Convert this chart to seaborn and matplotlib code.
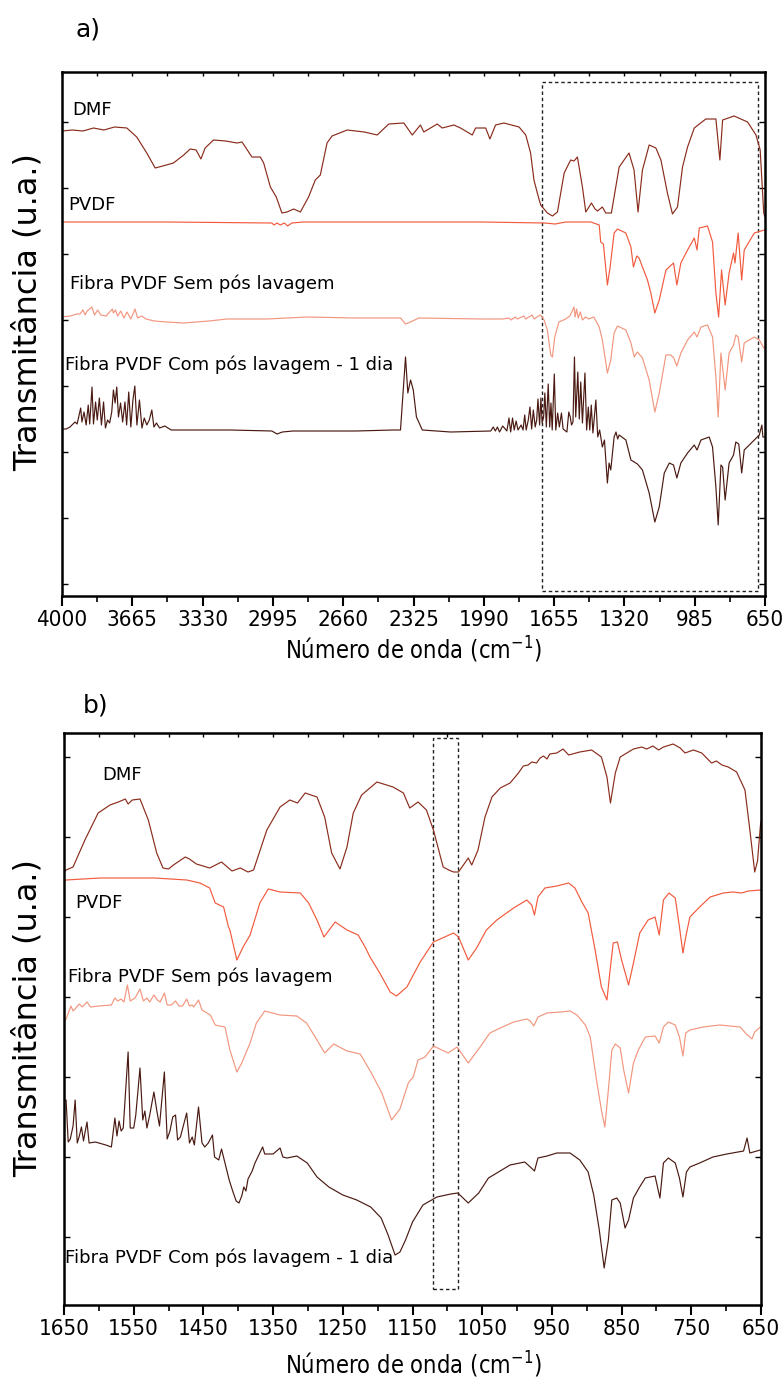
import matplotlib
matplotlib.use("Agg")
import matplotlib.pyplot as plt
import seaborn as sns
from matplotlib.patches import Rectangle
from matplotlib import font_manager

# ---------------- data: panel a (full range) ----------------
a_dmf_wn = [4000, 3950, 3900, 3850, 3800, 3750, 3691, 3644, 3596, 3556, 3520, 3469, 3420, 3389, 3361, 3338, 3318,
            3278, 3220, 3166, 3142, 3095, 3055, 3039, 3007, 2979, 2952, 2928, 2896, 2864, 2825, 2793, 2769, 2737,
            2713, 2641, 2560, 2498, 2443, 2371, 2331, 2292, 2276, 2212, 2188, 2133, 2101, 2045, 2029, 1981, 1961,
            1934, 1894, 1822, 1790, 1767, 1751, 1735, 1719, 1687, 1663, 1639, 1607, 1576, 1560, 1544, 1520, 1504,
            1477, 1460, 1448, 1425, 1409, 1382, 1345, 1298, 1274, 1255, 1234, 1202, 1170, 1146, 1115, 1091, 1067,
            1043, 1019, 987, 932, 884, 865, 852, 797, 733, 693, 673, 656, 650]
a_dmf_t = [466, 467, 466, 469, 467, 470, 469, 460, 444, 429, 431, 434, 442, 448, 447, 438, 449,
           457, 456, 454, 455, 440, 440, 434, 410, 400, 384, 385, 388, 385, 400, 417, 422, 454,
           461, 467, 465, 462, 473, 474, 462, 472, 465, 473, 469, 472, 469, 462, 469, 469, 458,
           472, 474, 470, 462, 444, 417, 404, 392, 384, 381, 385, 424, 437, 436, 440, 410, 385,
           394, 388, 386, 390, 384, 384, 430, 444, 427, 385, 427, 452, 449, 437, 404, 383, 390,
           430, 450, 469, 478, 478, 437, 477, 481, 475, 462, 447, 384, 380]

a_pvdf_wn = [4000, 3500, 3000, 2990, 2975, 2960, 2940, 2925, 2905, 2850, 2500, 2000, 1700, 1650, 1600, 1480, 1440,
             1433, 1420, 1401, 1388, 1369, 1353, 1313, 1289, 1277, 1261, 1250, 1234, 1210, 1194, 1175, 1154, 1122,
             1086, 1070, 1051, 1019, 987, 974, 963, 924, 900, 884, 871, 857, 840, 821, 800, 793, 778, 761, 749,
             701, 653, 650]
a_pvdf_t = [375, 375, 374, 372, 374, 372, 374, 371, 374, 375, 375, 375, 374, 373, 375, 375, 372,
            355, 353, 312, 330, 364, 368, 364, 350, 330, 341, 339, 330, 317, 304, 284, 297, 327,
            334, 312, 334, 347, 359, 347, 369, 371, 355, 304, 280, 327, 292, 324, 344, 334, 364, 317, 347,
            364, 367, 367]

a_sem_wn = [4000, 3960, 3930, 3914, 3900, 3890, 3880, 3858, 3845, 3830, 3815, 3790, 3760, 3755, 3745, 3735, 3720,
            3705, 3690, 3672, 3652, 3640, 3620, 3600, 3560, 3500, 3421, 3300, 3214, 3023, 2832, 2600, 2387, 2363,
            2339, 2300, 2000, 1900, 1870, 1860, 1840, 1830, 1800, 1790, 1760, 1750, 1730, 1719, 1703, 1687, 1671,
            1663, 1652, 1632, 1600, 1580, 1560, 1555, 1548, 1540, 1530, 1520, 1505, 1490, 1466, 1440, 1425, 1401,
            1385, 1369, 1353, 1313, 1289, 1273, 1258, 1234, 1202, 1175, 1154, 1122, 1099, 1085, 1070, 1051, 1019,
            987, 974, 955, 924, 900, 884, 873, 860, 840, 821, 800, 789, 778, 761, 749, 701, 677, 656, 650]
a_sem_t = [280, 281, 283, 283, 287, 282, 286, 290, 282, 287, 282, 281, 288, 284, 287, 281, 286,
           279, 285, 278, 288, 279, 281, 278, 276, 275, 274, 276, 278, 278, 280, 279, 279, 273,
           275, 279, 278, 278, 279, 277, 280, 278, 281, 278, 282, 278, 281, 282, 277, 267, 242,
           240, 260, 275, 278, 281, 290, 280, 288, 279, 285, 277, 280, 278, 280, 270, 257, 224,
           237, 264, 271, 267, 254, 240, 245, 239, 217, 185, 204, 242, 242, 239, 231, 244, 257,
           265, 260, 270, 272, 260, 220, 180, 244, 207, 244, 252, 262, 260, 235, 254, 260, 257, 249, 250]

a_com_wn = [4000, 3980, 3962, 3938, 3928, 3911, 3905, 3895, 3885, 3875, 3868, 3857, 3850, 3840, 3832, 3822, 3812,
            3802, 3793, 3783, 3773, 3763, 3755, 3747, 3739, 3731, 3721, 3711, 3700, 3692, 3682, 3672, 3662, 3653,
            3643, 3631, 3619, 3608, 3596, 3584, 3572, 3562, 3550, 3535, 3510, 3480, 3400, 3200, 3000, 2975, 2950,
            2900, 2600, 2420, 2387, 2363, 2352, 2339, 2326, 2311, 2283, 2148, 1957, 1945, 1935, 1925, 1915, 1900,
            1880, 1870, 1862, 1853, 1845, 1836, 1827, 1812, 1803, 1795, 1788, 1778, 1770, 1762, 1754, 1745, 1738,
            1732, 1724, 1718, 1712, 1705, 1699, 1692, 1683, 1676, 1670, 1664, 1654, 1647, 1638, 1630, 1620, 1612,
            1594, 1585, 1578, 1572, 1565, 1558, 1552, 1542, 1535, 1528, 1520, 1508, 1500, 1492, 1485, 1478, 1470,
            1456, 1447, 1438, 1425, 1415, 1401, 1393, 1385, 1369, 1360, 1352, 1345, 1313, 1289, 1273, 1258, 1234,
            1202, 1175, 1154, 1130, 1106, 1086, 1070, 1051, 1019, 987, 974, 955, 916, 900, 884, 873, 860, 852, 840,
            821, 800, 789, 775, 761, 749, 701, 677, 665, 660, 650]
a_com_t = [168, 168, 170, 175, 173, 189, 175, 185, 172, 192, 173, 210, 173, 195, 177, 199, 172,
           195, 169, 177, 174, 185, 207, 194, 210, 180, 194, 175, 195, 172, 205, 170, 197, 211,
           172, 197, 169, 179, 172, 177, 187, 170, 174, 169, 171, 167, 167, 167, 166, 163, 165,
           166, 166, 167, 167, 240, 204, 217, 207, 180, 167, 165, 166, 170, 166, 170, 165, 171,
           166, 179, 165, 179, 167, 176, 167, 172, 167, 182, 167, 177, 190, 168, 187, 170, 177,
           198, 172, 199, 174, 180, 204, 170, 213, 170, 194, 167, 223, 167, 184, 170, 184, 168,
           165, 185, 180, 172, 175, 240, 180, 225, 178, 215, 174, 224, 167, 190, 167, 192, 164,
           197, 160, 167, 150, 157, 114, 134, 127, 160, 165, 158, 162, 157, 137, 135, 133, 127,
           104, 75, 90, 124, 134, 132, 119, 134, 144, 152, 147, 157, 160, 150, 110, 72, 132, 130, 97,
           134, 142, 155, 153, 124, 147, 157, 162, 172, 160, 160]

# ---------------- data: panel b (1650-650 cm-1) ----------------
b_dmf_wn = [1650, 1647, 1637, 1620, 1601, 1584, 1572, 1562, 1558, 1552, 1541, 1529, 1517, 1508, 1500, 1493, 1476,
            1470, 1460, 1441, 1424, 1409, 1397, 1386, 1378, 1359, 1340, 1326, 1315, 1304, 1287, 1276, 1266, 1254,
            1244, 1235, 1223, 1201, 1178, 1163, 1154, 1142, 1130, 1120, 1106, 1098, 1091, 1084, 1075, 1070, 1065,
            1056, 1046, 1036, 1024, 1010, 998, 991, 984, 979, 972, 967, 962, 957, 953, 943, 934, 926, 910, 893,
            879, 871, 866, 859, 852, 833, 821, 814, 805, 797, 790, 776, 766, 759, 747, 735, 721, 714, 706, 697,
            685, 673, 666, 659, 655, 651, 650]
b_dmf_t = [419, 421, 424, 451, 478, 486, 489, 492, 487, 491, 492, 471, 438, 423, 422, 426, 434,
           432, 427, 423, 429, 420, 423, 419, 421, 461, 484, 491, 488, 498, 494, 474, 438, 422,
           444, 478, 496, 509, 504, 498, 483, 489, 481, 461, 424, 421, 419, 419, 428, 433, 426,
           441, 474, 494, 503, 508, 518, 525, 526, 529, 528, 533, 535, 532, 537, 538, 542, 536, 539, 541,
           534, 514, 488, 518, 534, 542, 544, 542, 545, 541, 544, 547, 543, 538, 541, 538, 528, 530, 526, 524,
           519, 501, 461, 419, 430, 464, 470]

b_pvdf_wn = [1650, 1647, 1598, 1520, 1474, 1455, 1441, 1433, 1421, 1414, 1412, 1402, 1393, 1383, 1369, 1357, 1340,
             1311, 1299, 1287, 1277, 1261, 1244, 1228, 1218, 1211, 1197, 1182, 1173, 1158, 1139, 1120, 1091, 1084,
             1070, 1058, 1044, 1029, 1005, 986, 979, 975, 970, 960, 943, 926, 917, 907, 898, 888, 879, 871, 867,
             862, 856, 850, 840, 833, 824, 812, 802, 796, 790, 782, 773, 767, 762, 758, 752, 738, 723, 704, 690,
             678, 668, 651, 650]
b_pvdf_t = [410, 411, 413, 413, 411, 408, 403, 388, 384, 364, 361, 331, 344, 356, 388, 402, 399,
            398, 388, 371, 354, 369, 361, 356, 344, 334, 318, 299, 295, 304, 329, 349, 358, 354,
            331, 343, 361, 371, 383, 391, 386, 376, 394, 403, 405, 408, 403, 389, 378, 341, 304, 291, 318,
            348, 349, 331, 306, 328, 358, 371, 374, 356, 391, 398, 393, 364, 338, 354, 374, 384, 394, 398, 399,
            398, 400, 401, 401]

b_sem_wn = [1650, 1647, 1640, 1637, 1633, 1628, 1624, 1617, 1612, 1600, 1582, 1577, 1573, 1568, 1564, 1559, 1555,
            1548, 1541, 1536, 1531, 1527, 1521, 1516, 1512, 1506, 1502, 1496, 1490, 1485, 1480, 1474, 1470, 1466,
            1464, 1457, 1452, 1445, 1440, 1433, 1427, 1419, 1412, 1402, 1395, 1383, 1374, 1362, 1340, 1316, 1302,
            1287, 1276, 1263, 1244, 1225, 1209, 1194, 1180, 1168, 1156, 1149, 1142, 1132, 1120, 1099, 1086, 1070,
            1053, 1039, 1024, 1005, 986, 981, 976, 970, 957, 938, 924, 914, 902, 895, 886, 879, 874, 869, 864, 859,
            852, 847, 840, 833, 826, 816, 802, 796, 790, 783, 773, 767, 762, 758, 752, 733, 709, 680, 671, 663,
            659, 651, 650]
b_sem_t = [270, 272, 285, 280, 283, 287, 284, 289, 284, 285, 286, 293, 290, 292, 289, 306, 290,
           293, 302, 290, 293, 289, 296, 291, 289, 298, 286, 286, 290, 285, 285, 292, 285, 286,
           284, 291, 281, 278, 276, 266, 265, 264, 241, 219, 228, 248, 268, 280, 276, 275, 268,
           251, 238, 247, 240, 237, 218, 198, 171, 182, 208, 214, 231, 234, 245, 238, 244, 228,
           244, 258, 263, 269, 272, 270, 265, 274, 278, 279, 280, 276, 266, 254, 211, 181, 164, 201, 241, 247,
           243, 221, 198, 228, 241, 254, 255, 248, 264, 269, 266, 254, 235, 258, 261, 264, 266, 264, 257, 252,
           259, 264, 264]

b_com_wn = [1650, 1647, 1644, 1641, 1637, 1634, 1631, 1628, 1625, 1622, 1620, 1617, 1614, 1605, 1590, 1582, 1577,
            1574, 1571, 1568, 1565, 1558, 1555, 1550, 1547, 1541, 1537, 1534, 1531, 1527, 1521, 1517, 1513, 1506,
            1502, 1498, 1494, 1490, 1487, 1483, 1474, 1470, 1466, 1463, 1457, 1452, 1448, 1443, 1437, 1434, 1428,
            1424, 1419, 1413, 1408, 1403, 1399, 1395, 1392, 1389, 1386, 1380, 1376, 1365, 1362, 1350, 1340, 1336,
            1330, 1316, 1301, 1287, 1270, 1250, 1230, 1210, 1195, 1185, 1175, 1168, 1160, 1150, 1135, 1115, 1095,
            1085, 1070, 1055, 1041, 1010, 989, 981, 975, 970, 957, 943, 924, 910, 898, 890, 882, 875, 869, 864,
            857, 852, 845, 840, 833, 825, 816, 802, 795, 790, 783, 773, 767, 762, 757, 752, 738, 719, 699, 675,
            670, 666, 651, 650]
b_com_t = [190, 191, 149, 152, 165, 191, 148, 155, 164, 150, 158, 169, 148, 149, 146, 144, 173,
           155, 170, 160, 163, 239, 163, 163, 176, 223, 171, 180, 163, 176, 199, 181, 165, 219,
           152, 160, 174, 176, 151, 154, 178, 148, 154, 146, 184, 148, 144, 148, 156, 134, 131,
           142, 128, 111, 100, 90, 88, 95, 104, 100, 112, 120, 128, 144, 137, 137, 143, 134,
           133, 135, 128, 114, 104, 96, 91, 84, 73, 56, 36, 39, 51, 69, 86, 94, 97,
           98, 88, 98, 113, 126, 129, 124, 120, 133, 135, 138, 138, 131, 119, 96, 61, 23, 51, 91,
           93, 88, 63, 71, 93, 103, 113, 115, 93, 128, 133, 128, 113, 94, 119, 124, 128, 134, 137, 140,
           153, 138, 141, 141]

series_names = ["DMF", "PVDF", "Fibra PVDF Sem pós lavagem", "Fibra PVDF Com pós lavagem - 1 dia"]
a_ticks = [4000, 3665, 3330, 2995, 2660, 2325, 1990, 1655, 1320, 985, 650]
b_ticks = [1650, 1550, 1450, 1350, 1250, 1150, 1050, 950, 850, 750, 650]

colors = ["#8a2c1c", "#f15a3d", "#f2967f", "#4a1a12"]

# ---------------- style ----------------
sns.set_theme(style="white")
plt.rcParams['font.family'] = ['DejaVu Sans']
plt.rcParams['mathtext.default'] = 'regular'
plt.rcParams['text.color'] = 'black'
plt.rcParams['xtick.color'] = 'black'
plt.rcParams['ytick.color'] = 'black'

has_cond = any(f.name == 'DejaVu Sans' and str(f.stretch) in ('condensed', '87.5')
               for f in font_manager.fontManager.ttflist)
names = {f.name for f in font_manager.fontManager.ttflist}
if 'Liberation Sans Narrow' in names:
    num_font = dict(fontfamily='Liberation Sans Narrow', fontsize=17)
    lab_font = dict(fontfamily='Liberation Sans Narrow', fontsize=20)
elif has_cond:
    num_font = dict(fontfamily='DejaVu Sans', fontstretch='condensed', fontsize=16)
    lab_font = dict(fontfamily='DejaVu Sans', fontstretch='condensed', fontsize=17)
else:
    num_font = dict(fontfamily='Liberation Sans', fontsize=16)
    lab_font = dict(fontfamily='Liberation Sans', fontsize=19)

W, H = 784, 1385
fig = plt.figure(figsize=(W / 100, H / 100), dpi=100)


def px_axes(l, t, r, b):
    return fig.add_axes([l / W, 1 - b / H, (r - l) / W, (b - t) / H])


def style_axis(ax, ticks, xlim, ylim, yticks):
    ax.set_xlim(*xlim)
    ax.set_ylim(*ylim)
    ax.set_xticks(ticks)
    step = (ticks[0] - ticks[1]) / 2
    minors = [t - step for t in ticks[:-1]]
    ax.set_xticks(minors, minor=True)
    ax.set_xticklabels([str(t) for t in ticks], **num_font)
    ax.tick_params(axis='x', which='major', direction='out', length=7, width=1.5, pad=3,
                   bottom=True, top=False, color='black', labelcolor='black')
    ax.tick_params(axis='x', which='minor', direction='out', length=4, width=1.2, bottom=True, top=False)
    ax.set_yticks(yticks)
    ax.tick_params(axis='y', which='major', direction='in', length=4, width=1.0,
                   left=True, right=True, labelleft=False)
    sec = ax.secondary_xaxis('top')
    sec.set_xticks(ticks + minors)
    sec.tick_params(direction='in', length=3, width=1.0, labeltop=False)
    sec.spines['top'].set_visible(False)
    for s in ax.spines.values():
        s.set_color('black')
        s.set_linewidth(1.8)
    ax.set_xlabel('')
    ax.set_ylabel('')


# ---------------- panel a ----------------
axa = px_axes(62, 72, 765, 596)
for wn, tv, c in zip([a_dmf_wn, a_pvdf_wn, a_sem_wn, a_com_wn],
                     [a_dmf_t, a_pvdf_t, a_sem_t, a_com_t], colors):
    sns.lineplot(x=wn, y=tv, sort=False, estimator=None, color=c, lw=0.85, ax=axa)
style_axis(axa, a_ticks, (4000, 650), (1, 525), [13 + 66 * k for k in range(8)])
axa.add_patch(Rectangle((1715, 6), 683 - 1715, 515 - 6, fill=False, ls=(0, (2.5, 2)),
                        lw=1.0, ec='#222222'))
for (x, y), s in zip([(3952, 487), (3971, 392), (3962, 313), (3986, 232)], series_names):
    axa.text(x, y, s, ha='left', va='center', fontsize=13, color='black')

# ---------------- panel b ----------------
axb = px_axes(64, 733, 761, 1305)
for wn, tv, c in zip([b_dmf_wn, b_pvdf_wn, b_sem_wn, b_com_wn],
                     [b_dmf_t, b_pvdf_t, b_sem_t, b_com_t], colors):
    sns.lineplot(x=wn, y=tv, sort=False, estimator=None, color=c, lw=0.85, ax=axb)
style_axis(axb, b_ticks, (1650, 650), (-14, 558), [54 + 80 * k for k in range(7)])
axb.add_patch(Rectangle((1121, 2), 1085 - 1121, 553 - 2, fill=False, ls=(0, (2.5, 2)),
                        lw=1.0, ec='#222222'))
for (x, y), s in zip([(1595, 516), (1634, 388), (1644, 314), (1648, 33)], series_names):
    axb.text(x, y, s, ha='left', va='center', fontsize=13, color='black')

# ---------------- figure texts ----------------
fig.text(88 / W, 1 - 30 / H, 'a)', fontsize=18, ha='center', va='center')
fig.text(96 / W, 1 - 705 / H, 'b)', fontsize=18, ha='center', va='center')
fig.text(28 / W, 1 - 312 / H, 'Transmitância (u.a.)', rotation=90, fontsize=23,
         ha='center', va='center')
fig.text(28 / W, 1 - 1018 / H, 'Transmitância (u.a.)', rotation=90, fontsize=23,
         ha='center', va='center')
fig.text(413 / W, 1 - 650 / H, 'Número de onda (cm$^{-1}$)', ha='center', va='center', **lab_font)
fig.text(413 / W, 1 - 1365 / H, 'Número de onda (cm$^{-1}$)', ha='center', va='center', **lab_font)

fig.savefig('out.png', dpi=100)
